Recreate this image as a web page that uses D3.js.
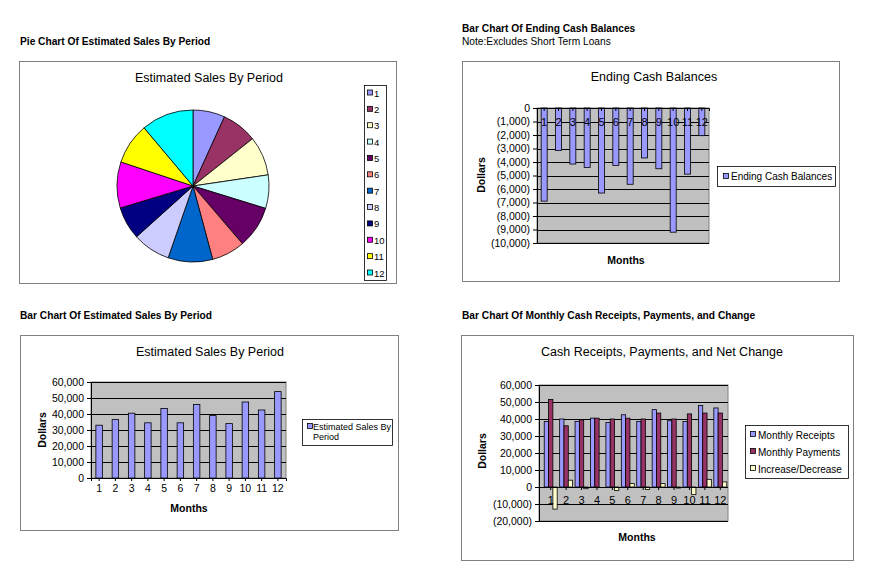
<!DOCTYPE html>
<html><head><meta charset="utf-8">
<script src="https://cdn.jsdelivr.net/npm/d3@7"></script>
<style>
body{margin:0;background:#fff;}
svg text{font-family:"Liberation Sans",Arial,sans-serif;}
</style></head>
<body><svg id="c" width="884" height="581"></svg>
<script>
const months = ["1","2","3","4","5","6","7","8","9","10","11","12"];
const salesValues = [33000,36500,40500,34500,43500,34500,46000,39000,34000,47500,42500,54000];
const endingCash = [-6900,-3150,-4150,-4400,-6300,-4250,-5650,-3700,-4500,-9200,-4900,-2050];
const receipts = [38500,40000,38500,40500,38000,42500,38500,45500,39000,38500,48000,46500];
const payments = [51500,36000,39500,40500,40000,40500,40000,43500,40000,43000,43500,43500];
const netChange = [-13000,4000,-1000,0,-2000,2000,-1500,2000,-600,-4500,4500,3000];
const pieColors = ["#9999FF","#993366","#FFFFCC","#CCFFFF","#660066","#FF8080","#0066CC","#CCCCFF","#000080","#FF00FF","#FFFF00","#00FFFF"];
const salesTicks = [0,10000,20000,30000,40000,50000,60000];
const cashTicks = [0,-1000,-2000,-3000,-4000,-5000,-6000,-7000,-8000,-9000,-10000];
const flowTicks = [-20000,-10000,0,10000,20000,30000,40000,50000,60000];
const seriesNames = ["Monthly Receipts","Monthly Payments","Increase/Decrease"];
const seriesColors = ["#9999FF","#993366","#FFFFCC"];

const svg = d3.select("#c");
const fmt = v => v < 0 ? "(" + d3.format(",")(-v) + ")" : d3.format(",")(v);

function txt(x,y,s,opts={}){
  return svg.append("text").attr("x",x).attr("y",y).text(s)
    .attr("font-size",opts.size||11).attr("font-weight",opts.bold?"bold":"normal")
    .attr("text-anchor",opts.anchor||"start").attr("fill","#000");
}
txt(20,45,"Pie Chart Of Estimated Sales By Period",{bold:true,size:10.2});
txt(462,32,"Bar Chart Of Ending Cash Balances",{bold:true,size:10.2});
txt(462,45,"Note:Excludes Short Term Loans",{size:10.2});
txt(20,319,"Bar Chart Of Estimated Sales By Period",{bold:true,size:10.2});
txt(462,319,"Bar Chart Of Monthly Cash Receipts, Payments, and Change",{bold:true,size:10.2});

function frame(x,y,w,h){
  svg.append("rect").attr("x",x+0.5).attr("y",y+0.5).attr("width",w).attr("height",h)
    .attr("fill","#fff").attr("stroke","#808080").attr("stroke-width",1);
}

// ---------- Pie ----------
frame(19,61,377,222);
txt(209,82,"Estimated Sales By Period",{size:12.5,anchor:"middle"});
const pie = d3.pie().sort(null).value(d=>d)(salesValues);
const arc = d3.arc().innerRadius(0).outerRadius(76);
svg.append("g").attr("transform","translate(193,186)")
  .selectAll("path").data(pie).join("path")
  .attr("d",arc).attr("fill",(d,i)=>pieColors[i]).attr("stroke","#000").attr("stroke-width",0.8);
svg.append("rect").attr("x",364.5).attr("y",85.5).attr("width",22).attr("height",195)
  .attr("fill","#fff").attr("stroke","#000").attr("stroke-width",0.8);
const ly = d3.scalePoint().domain(months).range([93,273]);
months.forEach((m,i)=>{
  svg.append("rect").attr("x",367.5).attr("y",ly(m)-3).attr("width",5).attr("height",5)
    .attr("fill",pieColors[i]).attr("stroke","#000").attr("stroke-width",0.8);
  txt(374,ly(m)+3.5,m,{size:9.5});
});

function plotBg(x0,x1,y,ticks){
  svg.append("rect").attr("x",x0).attr("y",y.range()[1]).attr("width",x1-x0)
    .attr("height",y.range()[0]-y.range()[1]).attr("fill","#C0C0C0").attr("stroke","#808080");
  svg.append("g").selectAll("line").data(ticks).join("line")
    .attr("x1",x0).attr("x2",x1).attr("y1",d=>Math.round(y(d))+0.5).attr("y2",d=>Math.round(y(d))+0.5)
    .attr("stroke","#000").attr("stroke-width",1);
}
function yAxis(x0,y,ticks){
  const g = svg.append("g").attr("transform",`translate(${x0},0)`)
    .call(d3.axisLeft(y).tickValues(ticks).tickFormat(fmt).tickSize(4).tickPadding(3));
  g.select(".domain").attr("stroke","#000");
  g.selectAll("text").attr("font-size",10.5).attr("font-family","Liberation Sans, Arial, sans-serif").attr("fill","#000");
  return g;
}
function legendBox(x,y,w,h){
  svg.append("rect").attr("x",x+0.5).attr("y",y+0.5).attr("width",w).attr("height",h)
    .attr("fill","#fff").attr("stroke","#000").attr("stroke-width",0.8);
}

// ---------- Ending Cash Balances ----------
frame(462,61,377,220);
txt(654,81,"Ending Cash Balances",{size:12.5,anchor:"middle"});
{
  const y = d3.scaleLinear().domain([-10000,0]).range([243,108]);
  const x = d3.scaleBand().domain(months).range([537,709]).paddingInner(0.58).paddingOuter(0.29);
  plotBg(537,709,y,cashTicks);
  svg.append("g").selectAll("rect").data(endingCash).join("rect")
    .attr("x",(d,i)=>x(months[i])).attr("width",x.bandwidth())
    .attr("y",y(0)).attr("height",d=>y(d)-y(0))
    .attr("fill","#9999FF").attr("stroke","#000").attr("stroke-width",0.8);
  yAxis(537,y,cashTicks);
  const xa = svg.append("g").attr("transform",`translate(0,${y(0)})`)
    .call(d3.axisBottom(x).tickSize(3).tickPadding(7));
  xa.select(".domain").attr("stroke","#000");
  xa.selectAll("text").attr("font-size",11).attr("font-family","Liberation Sans, Arial, sans-serif").attr("fill","#000");
  svg.append("text").attr("transform","translate(485,175) rotate(-90)").attr("text-anchor","middle")
    .attr("font-size",10.5).attr("font-weight","bold").text("Dollars");
  txt(626,264,"Months",{bold:true,size:10.5,anchor:"middle"});
  legendBox(717,166,118,20);
  svg.append("rect").attr("x",723.5).attr("y",173.5).attr("width",5).attr("height",5)
    .attr("fill","#9999FF").attr("stroke","#000").attr("stroke-width",0.8);
  txt(731,180,"Ending Cash Balances",{size:10});
}

// ---------- Estimated Sales bar ----------
frame(20,335,378,195);
txt(210,356,"Estimated Sales By Period",{size:12.5,anchor:"middle"});
{
  const y = d3.scaleLinear().domain([0,60000]).range([478,382]);
  const x = d3.scaleBand().domain(months).range([91,286]).paddingInner(0.6).paddingOuter(0.3);
  plotBg(91,286,y,salesTicks);
  svg.append("g").selectAll("rect").data(salesValues).join("rect")
    .attr("x",(d,i)=>x(months[i])).attr("width",x.bandwidth())
    .attr("y",d=>y(d)).attr("height",d=>y(0)-y(d))
    .attr("fill","#9999FF").attr("stroke","#000").attr("stroke-width",0.8);
  yAxis(91,y,salesTicks);
  const xa = svg.append("g").attr("transform",`translate(0,${y(0)})`)
    .call(d3.axisBottom(x).tickSize(3).tickPadding(4));
  xa.select(".domain").attr("stroke","#000");
  xa.selectAll("text").attr("font-size",10.5).attr("font-family","Liberation Sans, Arial, sans-serif").attr("fill","#000");
  svg.append("text").attr("transform","translate(46,430) rotate(-90)").attr("text-anchor","middle")
    .attr("font-size",10.5).attr("font-weight","bold").text("Dollars");
  txt(189,512,"Months",{bold:true,size:10.5,anchor:"middle"});
  legendBox(302,419,90,26);
  svg.append("rect").attr("x",307.5).attr("y",423.5).attr("width",5).attr("height",5)
    .attr("fill","#9999FF").attr("stroke","#000").attr("stroke-width",0.8);
  txt(313,429.5,"Estimated Sales By",{size:9});
  txt(313,440,"Period",{size:9});
}

// ---------- Cash Receipts, Payments, Net Change ----------
frame(461,335,392,225);
txt(662,356,"Cash Receipts, Payments, and Net Change",{size:12.5,anchor:"middle"});
{
  const y = d3.scaleLinear().domain([-20000,60000]).range([521,385]);
  const x = d3.scaleBand().domain(months).range([543,728]).paddingInner(0.16).paddingOuter(0.08);
  const xs = d3.scaleBand().domain([0,1,2]).range([0,x.bandwidth()]).padding(0);
  plotBg(539,728,y,flowTicks);
  const series = [receipts,payments,netChange];
  series.forEach((vals,s)=>{
    svg.append("g").selectAll("rect").data(vals).join("rect")
      .attr("x",(d,i)=>x(months[i])+xs(s)).attr("width",xs.bandwidth())
      .attr("y",d=>y(Math.max(d,0))).attr("height",d=>Math.abs(y(d)-y(0)))
      .attr("fill",seriesColors[s]).attr("stroke","#000").attr("stroke-width",0.8);
  });
  yAxis(539,y,flowTicks);
  const xa = svg.append("g").attr("transform",`translate(0,${y(0)})`)
    .call(d3.axisBottom(x).tickSize(3).tickPadding(6));
  xa.select(".domain").remove();
  svg.append("line").attr("x1",539).attr("x2",728).attr("y1",Math.round(y(0))+0.5).attr("y2",Math.round(y(0))+0.5).attr("stroke","#000");
  xa.selectAll("text").attr("font-size",11).attr("font-family","Liberation Sans, Arial, sans-serif").attr("fill","#000");
  svg.append("text").attr("transform","translate(486,451) rotate(-90)").attr("text-anchor","middle")
    .attr("font-size",10.5).attr("font-weight","bold").text("Dollars");
  txt(637,541,"Months",{bold:true,size:10.5,anchor:"middle"});
  legendBox(745,425,103,53);
  seriesNames.forEach((n,i)=>{
    const yy = 435 + i*17;
    svg.append("rect").attr("x",750.5).attr("y",yy-3.5).attr("width",5).attr("height",5)
      .attr("fill",seriesColors[i]).attr("stroke","#000").attr("stroke-width",0.8);
    txt(758,yy+3.5,n,{size:10});
  });
}
</script></body></html>
